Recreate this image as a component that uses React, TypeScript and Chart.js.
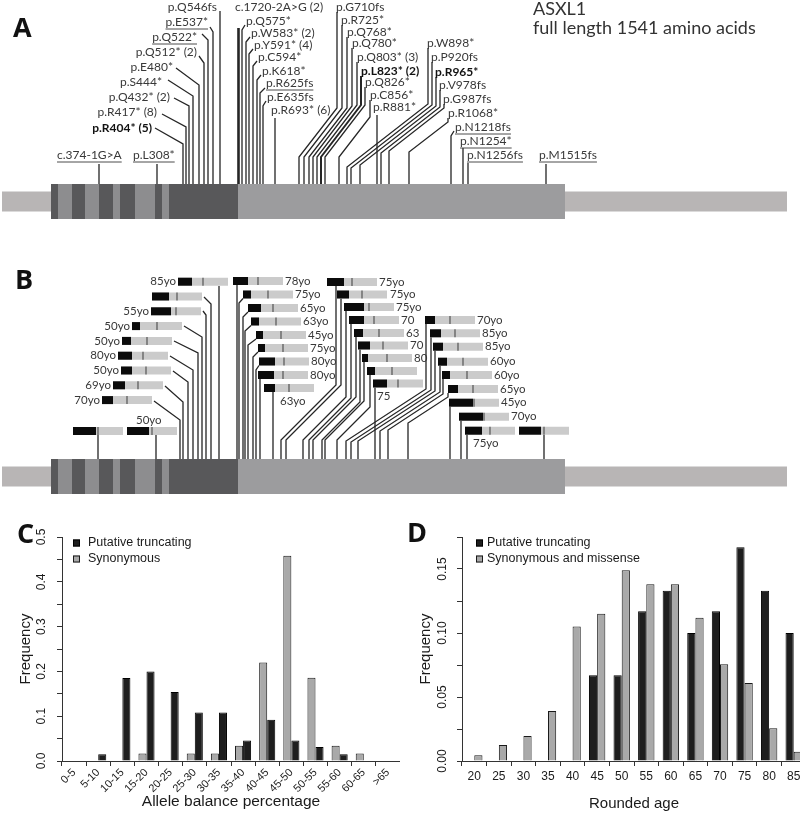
import React, { useEffect, useRef } from 'react';
import { Chart, registerables } from 'chart.js';

Chart.register(...registerables);
Chart.defaults.font.family = '"Liberation Sans", Arial, sans-serif';

// ======================= DATA =======================
// Panels A/B: ASXL1 putative truncating variants
const variantNames = [
  'p.R404* (5)', 'p.R417* (8)', 'p.Q432* (2)', 'p.S444*', 'p.E480*', 'p.Q512* (2)', 'p.Q522*', 'p.E537*', 'p.Q546fs',
  'c.374-1G>A', 'p.L308*',
  'c.1720-2A>G (2)', 'p.Q575*', 'p.W583* (2)', 'p.Y591* (4)', 'p.C594*', 'p.K618*', 'p.R625fs', 'p.E635fs', 'p.R693* (6)',
  'p.G710fs', 'p.R725*', 'p.Q768*', 'p.Q780*', 'p.Q803* (3)', 'p.L823* (2)', 'p.Q826*', 'p.C856*', 'p.R881*',
  'p.W898*', 'p.P920fs', 'p.R965*', 'p.V978fs', 'p.G987fs', 'p.R1068*',
  'p.N1218fs', 'p.N1254*', 'p.N1256fs', 'p.M1515fs',
];
const boldVariants = ['p.R404* (5)', 'p.L823* (2)', 'p.R965*'];
const underlinedVariants = ['c.374-1G>A', 'p.L308*', 'p.Q522*', 'p.E537*', 'p.R625fs', 'p.N1218fs', 'p.N1254*', 'p.N1256fs', 'p.M1515fs'];
// where each variant meets the protein schematic (schematic units), panel A and panel B
const variantSiteA = [183, 186, 189, 193, 199, 204, 208, 213, 220, 99, 157, 238.5, 242, 246, 249, 253, 257, 260, 263, 275, 299, 304, 309, 313, 317, 321, 325, 339, 377, 347, 351, 360, 381, 389, 409, 451, 463, 468, 546];
const variantSiteB = [180, 183, 188, 193, 198, 202, 206, 211, 219, 98, 156, 237, 239, 243, 245, 248, 253, 256, 260, 273, 281, 286, 303, 309, 313, 322, 325, 337, 375, 346, 351, 358, 380, 388, 408, 450, 461, 467, 544];
// Panel B: carrier age label and allele balance (%) for each variant
const carrierAge = ['70yo', '69yo', '50yo', '80yo', '50yo', '50yo', '55yo', '', '85yo', '', '50yo', '78yo', '75yo', '65yo', '63yo', '45yo', '75yo', '80yo', '80yo', '63yo', '75yo', '75yo', '75yo', '70', '63', '70', '80', '', '75', '70yo', '85yo', '85yo', '60yo', '60yo', '65yo', '45yo', '70yo', '75yo', ''];
const alleleBalancePct = [22, 24, 22, 28, 18, 16, 40, 34, 28, 46, 44, 30, 16, 26, 16, 14, 14, 32, 32, 22, 34, 24, 40, 30, 18, 24, 12, 16, 28, 20, 22, 20, 18, 16, 20, 48, 48, 34, 44];
// Protein schematic: exon boundaries and shading
const exonEdges = [51, 58, 72, 85, 99, 113, 120, 135, 155, 162, 169, 238, 565];
const exonShade = ['dark', 'mid', 'dark', 'mid', 'dark', 'mid', 'dark', 'mid', 'dark', 'mid', 'dark', 'last'];

// Panel C: allele balance
const abCategories = ['0-5', '5-10', '10-15', '15-20', '20-25', '25-30', '30-35', '35-40', '40-45', '45-50', '50-55', '55-60', '60-65', '>65'];
const abTruncating = [0, 0.015, 0.185, 0.2, 0.154, 0.108, 0.108, 0.046, 0.092, 0.046, 0.031, 0.015, 0, 0];
const abSynonymous = [0, 0, 0, 0.017, 0, 0.017, 0.017, 0.034, 0.22, 0.458, 0.186, 0.034, 0.017, 0];

// Panel D: rounded age
const ageCategories = ['20', '25', '30', '35', '40', '45', '50', '55', '60', '65', '70', '75', '80', '85'];
const ageTruncating = [0, 0, 0, 0, 0, 0.067, 0.067, 0.117, 0.133, 0.1, 0.117, 0.167, 0.133, 0.1];
const ageSynMissense = [0.0045, 0.0125, 0.0195, 0.039, 0.105, 0.115, 0.149, 0.138, 0.138, 0.112, 0.0755, 0.061, 0.0255, 0.0073];

// ======================= LAYOUT (label placement) =======================
type Pt = [number, number];
// [textX, textY, align, leader path, lineWidth?]
const aLayout: Array<[number, number, 'l' | 'r', Pt[], number?]> = [
  [152, 128, 'r', [[155, 128], [183, 144]]],
  [157, 112, 'r', [[162, 114], [186, 127]]],
  [170, 97, 'r', [[174, 98], [189, 106]]],
  [162, 82, 'r', [[168, 80], [193, 96]]],
  [173, 67, 'r', [[176, 68], [199, 85]]],
  [197, 52, 'r', [[199, 56], [204, 63]]],
  [197, 37, 'r', [[202, 34], [208, 40]]],
  [208, 22, 'r', [[210, 27], [213, 32]]],
  [217, 7, 'r', [[220, 11]]],
  [57, 155, 'l', [[99, 164]]],
  [133, 155, 'l', [[157, 164]]],
  [235, 7, 'l', [[238.5, 28]], 2.6],
  [246, 21, 'l', [[245, 25], [242, 30]]],
  [251, 33, 'l', [[250, 37], [246, 42]]],
  [254, 45, 'l', [[253, 49], [249, 54]]],
  [258, 57, 'l', [[257, 61], [253, 66]]],
  [262, 71, 'l', [[261, 75], [257, 80]]],
  [266, 83, 'l', [[265, 88], [260, 93]]],
  [267, 97, 'l', [[266, 101], [263, 106]]],
  [271, 110, 'l', [[275, 118]]],
  [336, 7, 'l', [[337, 12], [337, 108], [299, 157]]],
  [341, 20, 'l', [[342, 25], [342, 108], [304, 157]]],
  [347, 32, 'l', [[347, 37], [347, 108], [309, 157]]],
  [352, 43, 'l', [[352, 48], [352, 106], [313, 157]]],
  [357, 57, 'l', [[357, 62], [357, 105], [317, 157]]],
  [361, 71, 'l', [[361, 76], [361, 105], [321, 157]], 2],
  [365, 82, 'l', [[365, 87], [365, 105], [325, 157]]],
  [370, 95, 'l', [[370, 100], [370, 117], [339, 157]]],
  [373, 107, 'l', [[377, 115]]],
  [427, 43, 'l', [[428, 48], [428, 104], [347, 167]]],
  [431, 57, 'l', [[432, 62], [432, 105], [351, 168]]],
  [435, 72, 'l', [[436, 77], [436, 106], [360, 165]]],
  [439, 85, 'l', [[440, 90], [440, 107], [381, 153]]],
  [443, 99, 'l', [[444, 104], [444, 108], [389, 151]]],
  [448, 113, 'l', [[448, 118], [448, 122], [409, 152]]],
  [455, 127, 'l', [[454, 131], [451, 136]]],
  [460, 141, 'l', [[463, 148]]],
  [467, 155, 'l', [[468, 163]]],
  [539, 155, 'l', [[546, 164]]],
];
// [bar start x, bar centre y, age label [x, y, align] | null, leader path]
const bLayout: Array<[number, number, [number, number, 'l' | 'r'] | null, Pt[]]> = [
  [102, 400.1, [100, 400.1, 'r'], [[154, 401], [180, 420]]],
  [113, 385.3, [111, 385.3, 'r'], [[165, 386], [183, 402]]],
  [121, 370.5, [119, 370.5, 'r'], [[173, 371], [188, 382]]],
  [118, 355.7, [116, 355.7, 'r'], [[170, 356], [193, 370]]],
  [122, 340.9, [120, 340.9, 'r'], [[174, 341], [198, 353]]],
  [132, 326.1, [130, 326.1, 'r'], [[184, 326], [202, 337]]],
  [151, 311.3, [149, 311.3, 'r'], [[203, 311], [206, 315]]],
  [152, 296.5, null, [[204, 297], [211, 304]]],
  [178, 281.7, [176, 281.7, 'r'], [[219, 286]]],
  [73, 431, null, [[98, 435]]],
  [127, 431, [136, 420, 'l'], [[156, 435]]],
  [233, 281, [285, 281, 'l'], [[237, 285]]],
  [243, 294.5, [295, 294.5, 'l'], [[243, 298.5], [239, 303]]],
  [248, 308, [300, 308, 'l'], [[248, 312], [243, 317]]],
  [251, 321.5, [303, 321.5, 'l'], [[251, 325.5], [245, 331]]],
  [256, 335, [308, 335, 'l'], [[256, 339], [248, 345]]],
  [258, 348, [310, 348, 'l'], [[258, 352], [253, 357]]],
  [259, 361.5, [311, 361.5, 'l'], [[259, 365.5], [256, 370]]],
  [258, 375, [310, 375, 'l'], [[260, 379]]],
  [264, 388, [280, 401, 'l'], [[273, 392]]],
  [327, 282, [379, 282, 'l'], [[336, 286], [336, 385], [281, 440]]],
  [337, 294.5, [390, 294.5, 'l'], [[341, 298.5], [341, 385], [286, 440]]],
  [344, 307, [396, 307, 'l'], [[346, 311], [346, 397], [303, 440]]],
  [349, 320, [401, 320, 'l'], [[351, 324], [351, 398], [309, 440]]],
  [354, 333, [406, 333, 'l'], [[356, 337], [356, 397], [313, 440]]],
  [358, 345.5, [410, 345.5, 'l'], [[360, 349.5], [360, 402], [322, 440]]],
  [362, 358, [414, 358, 'l'], [[364, 362], [364, 401], [325, 440]]],
  [367, 371, null, [[370, 375], [370, 407], [337, 440]]],
  [373, 383.5, [377, 396, 'l'], [[375, 387.5]]],
  [425, 320, [477, 320, 'l'], [[426, 324], [426, 389], [346, 441]]],
  [430, 333.3, [482, 333.3, 'l'], [[431, 337.3], [431, 390], [351, 442]]],
  [433, 346.7, [485, 346.7, 'l'], [[435, 350.7], [435, 391], [358, 441]]],
  [438, 361.7, [490, 361.7, 'l'], [[440, 365.7], [440, 392], [380, 431]]],
  [442, 375, [494, 375, 'l'], [[443, 379], [443, 394], [388, 430]]],
  [448, 389, [500, 389, 'l'], [[448, 393], [448, 397], [408, 423]]],
  [449, 402.7, [501, 402.7, 'l'], [[450, 406.7]]],
  [459, 416.7, [511, 416.7, 'l'], [[461, 420.7]]],
  [465, 430.7, [473, 443, 'l'], [[467, 434.7]]],
  [519, 430.7, null, [[544, 434.7]]],
];

const SHADES: Record<string, string> = { dark: '#58585a', mid: '#8d8d8f', last: '#9c9c9e' };
const FLANK = '#b8b5b5';
const LEADER = '#262626';
const LABEL_FONT = '12px Lato';
const AGE_FONT = '11.5px Lato';

function seg(pts: Pt[], color: string, width: number) {
  return {
    data: pts.map(([x, y]) => ({ x, y })),
    showLine: true,
    borderColor: color,
    backgroundColor: color,
    borderWidth: width,
    pointRadius: 0,
    pointHoverRadius: 0,
    pointHitRadius: 0,
    tension: 0,
    fill: false,
    borderCapStyle: 'butt',
    borderJoinStyle: 'miter',
    clip: false,
  };
}

function proteinDatasets(yc: number) {
  const out: any[] = [];
  out.push(seg([[2, yc], [exonEdges[0], yc]], FLANK, 20));
  out.push(seg([[exonEdges[exonEdges.length - 1], yc], [787, yc]], FLANK, 20));
  for (let i = 0; i < exonShade.length; i++) {
    out.push(seg([[exonEdges[i], yc], [exonEdges[i + 1], yc]], SHADES[exonShade[i]], 35));
  }
  return out;
}

const A_TOP = 184, A_YC = 201.5, B_TOP = 459, B_YC = 476.5;

const diagramText = {
  id: 'diagramText',
  afterDatasetsDraw(chart: any) {
    const ctx = chart.ctx as CanvasRenderingContext2D;
    const px = (v: number) => chart.scales.x.getPixelForValue(v);
    const py = (v: number) => chart.scales.y.getPixelForValue(v);
    ctx.save();
    ctx.textBaseline = 'middle';
    variantNames.forEach((name, i) => {
      const [tx, ty, al] = aLayout[i];
      const bold = boldVariants.includes(name);
      ctx.font = (bold ? 'bold ' : '') + LABEL_FONT;
      ctx.fillStyle = bold ? '#111' : '#383838';
      ctx.textAlign = al === 'r' ? 'right' : 'left';
      ctx.fillText(name, px(tx), py(ty));
      if (underlinedVariants.includes(name)) {
        const w = ctx.measureText(name).width;
        const x0 = al === 'r' ? px(tx) - w : px(tx);
        ctx.strokeStyle = '#383838';
        ctx.lineWidth = 0.9;
        ctx.beginPath();
        ctx.moveTo(x0, py(ty) + 7);
        ctx.lineTo(x0 + w, py(ty) + 7);
        ctx.stroke();
      }
    });
    ctx.font = AGE_FONT;
    ctx.fillStyle = '#383838';
    carrierAge.forEach((age, i) => {
      const lab = bLayout[i][2];
      if (!age || !lab) return;
      ctx.textAlign = lab[2] === 'r' ? 'right' : 'left';
      ctx.fillText(age, px(lab[0]), py(lab[1]));
    });
    ctx.textBaseline = 'alphabetic';
    ctx.textAlign = 'left';
    ctx.fillStyle = '#333';
    ctx.font = '18px Lato';
    ctx.fillText('ASXL1', px(533), py(15));
    ctx.fillText('full length 1541 amino acids', px(533), py(34));
    ctx.fillStyle = '#111';
    ctx.font = 'bold 27px "Open Sans"';
    ctx.fillText('A', px(13), py(37));
    ctx.fillText('B', px(15), py(289));
    ctx.restore();
  },
};

function makeDiagram(canvas: HTMLCanvasElement) {
  const paint: any[] = [];
  // leaders A
  variantNames.forEach((_, i) => {
    const [, , , path, w] = aLayout[i];
    paint.push(seg([...path, [variantSiteA[i], A_TOP]], LEADER, w || 1.3));
  });
  // leaders B
  variantNames.forEach((_, i) => {
    const path = bLayout[i][3];
    paint.push(seg([...path, [variantSiteB[i], B_TOP]], LEADER, 1.3));
  });
  // protein schematics
  paint.push(...proteinDatasets(A_YC));
  paint.push(...proteinDatasets(B_YC));
  // mini bars in B: full width = 100 % allele balance, tick at 50 %
  variantNames.forEach((_, i) => {
    const [bx, by] = bLayout[i];
    paint.push(seg([[bx, by], [bx + 50, by]], '#cbcbcb', 8));
    paint.push(seg([[bx, by], [bx + alleleBalancePct[i] / 2, by]], '#0b0b0b', 8));
    paint.push(seg([[bx + 25, by - 4], [bx + 25, by + 4]], '#555', 1.2));
  });
  return new Chart(canvas, {
    type: 'scatter',
    data: { datasets: paint.reverse() },
    options: {
      animation: false,
      responsive: false,
      devicePixelRatio: 1,
      events: [],
      layout: { padding: 0 },
      scales: {
        x: { type: 'linear', min: 0, max: 800, display: false },
        y: { type: 'linear', min: 0, max: 500, reverse: true, display: false },
      },
      plugins: { legend: { display: false }, tooltip: { enabled: false } },
    },
    plugins: [diagramText],
  } as any);
}

const panelDecor = {
  id: 'panelDecor',
  afterDraw(chart: any, _args: any, opts: any) {
    const ctx = chart.ctx as CanvasRenderingContext2D;
    const ca = chart.chartArea;
    ctx.save();
    ctx.fillStyle = '#111';
    ctx.font = 'bold 27px "Open Sans"';
    ctx.textAlign = 'left';
    ctx.textBaseline = 'alphabetic';
    ctx.fillText(opts.letter, opts.letterX, opts.letterY);
    ctx.font = '12.5px "Liberation Sans"';
    ctx.textBaseline = 'middle';
    opts.order.forEach((dsIndex: number, k: number) => {
      const ds = chart.data.datasets[dsIndex];
      const y = ca.top + 6 + k * 16;
      const bx = ca.left + opts.boxX;
      ctx.fillStyle = ds.backgroundColor;
      ctx.fillRect(bx, y - 3.5, 7, 7);
      ctx.strokeStyle = ds.borderColor;
      ctx.lineWidth = 1;
      ctx.strokeRect(bx + 0.5, y - 3, 6, 6);
      ctx.fillStyle = '#1a1a1a';
      ctx.fillText(ds.label, ca.left + opts.textX, y);
    });
    ctx.restore();
  },
};

const BLACK = { backgroundColor: '#1e1e1e', borderColor: '#000' };
const GREY = { backgroundColor: '#a9a9a9', borderColor: '#1a1a1a' };

function makeBar(canvas: HTMLCanvasElement, cfg: any) {
  return new Chart(canvas, {
    type: 'bar',
    data: {
      labels: cfg.labels,
      datasets: cfg.datasets.map((d: any) => ({
        ...d,
        borderWidth: 1,
        borderSkipped: 'start',
        categoryPercentage: 2 / 3,
        barPercentage: 1,
      })),
    },
    options: {
      animation: false,
      responsive: false,
      devicePixelRatio: 1,
      events: [],
      layout: { padding: { top: 37, right: cfg.rightPad, left: 0, bottom: 0 } },
      scales: {
        x: {
          type: 'category',
          offset: true,
          afterFit: (s: any) => { s.height = 52; },
          grid: { drawOnChartArea: false, offset: true, tickLength: 5, color: '#333' },
          border: { display: true, color: '#333', width: 1 },
          ticks: {
            autoSkip: false,
            minRotation: cfg.xRot,
            maxRotation: cfg.xRot,
            padding: cfg.xTickPad,
            color: '#1a1a1a',
            font: { size: cfg.xTickSize },
          },
          title: {
            display: true,
            text: cfg.xTitle,
            color: '#1a1a1a',
            font: { size: cfg.xTitleSize },
            padding: { top: 0, bottom: cfg.xTitlePad },
          },
        },
        y: {
          min: 0,
          max: cfg.yMax,
          afterFit: (s: any) => { s.width = 62; },
          grid: { drawOnChartArea: false, tickLength: 5, color: '#333' },
          border: { display: true, color: '#333', width: 1 },
          ticks: {
            stepSize: cfg.yStep,
            autoSkip: false,
            minRotation: 90,
            maxRotation: 90,
            crossAlign: 'center',
            padding: cfg.yTickPad,
            color: '#1a1a1a',
            font: { size: 12 },
            callback: (v: number) => {
              const k = v * cfg.labelPer;
              return Math.abs(k - Math.round(k)) < 1e-6 ? v.toFixed(cfg.decimals) : '';
            },
          },
          title: {
            display: true,
            text: 'Frequency',
            color: '#1a1a1a',
            font: { size: 15 },
            padding: { top: 17, bottom: 0 },
          },
        },
      },
      plugins: {
        legend: { display: false },
        tooltip: { enabled: false },
        panelDecor: cfg.decor,
      },
    },
    plugins: [panelDecor],
  } as any);
}

export default function App() {
  const abRef = useRef<HTMLCanvasElement>(null);
  const cRef = useRef<HTMLCanvasElement>(null);
  const dRef = useRef<HTMLCanvasElement>(null);

  useEffect(() => {
    document.body.style.margin = '0';
    const charts: Chart[] = [];
    charts.push(makeDiagram(abRef.current!));
    charts.push(
      makeBar(cRef.current!, {
        labels: abCategories,
        datasets: [
          { label: 'Synonymous', data: abSynonymous, ...GREY },
          { label: 'Putative truncating', data: abTruncating, ...BLACK },
        ],
        yMax: 0.5,
        yStep: 0.05,
        labelPer: 10,
        decimals: 1,
        yTickPad: 7,
        xRot: 45,
        xTickSize: 11,
        xTickPad: 0,
        xTitle: 'Allele balance percentage',
        xTitleSize: 15.5,
        xTitlePad: 2,
        rightPad: 0,
        decor: { letter: 'C', letterX: 17, letterY: 43, order: [1, 0], boxX: 11, textX: 26 },
      })
    );
    charts.push(
      makeBar(dRef.current!, {
        labels: ageCategories,
        datasets: [
          { label: 'Putative truncating', data: ageTruncating, ...BLACK },
          { label: 'Synonymous and missense', data: ageSynMissense, ...GREY },
        ],
        yMax: 0.175,
        yStep: 0.025,
        labelPer: 20,
        decimals: 2,
        yTickPad: 3,
        xRot: 0,
        xTickSize: 12,
        xTickPad: 3,
        xTitle: 'Rounded age',
        xTitleSize: 15,
        xTitlePad: 0,
        rightPad: 4,
        decor: { letter: 'D', letterX: 7, letterY: 42, order: [0, 1], boxX: 14, textX: 25 },
      })
    );
    return () => charts.forEach((c) => c.destroy());
  }, []);

  return (
    <div style={{ position: 'relative', width: 800, height: 813, overflow: 'hidden', background: '#fff' }}>
      <canvas ref={abRef} width={800} height={500} style={{ position: 'absolute', left: 0, top: 0 }} />
      <canvas ref={cRef} width={400} height={313} style={{ position: 'absolute', left: 0, top: 500 }} />
      <canvas ref={dRef} width={410} height={313} style={{ position: 'absolute', left: 400, top: 500 }} />
    </div>
  );
}
